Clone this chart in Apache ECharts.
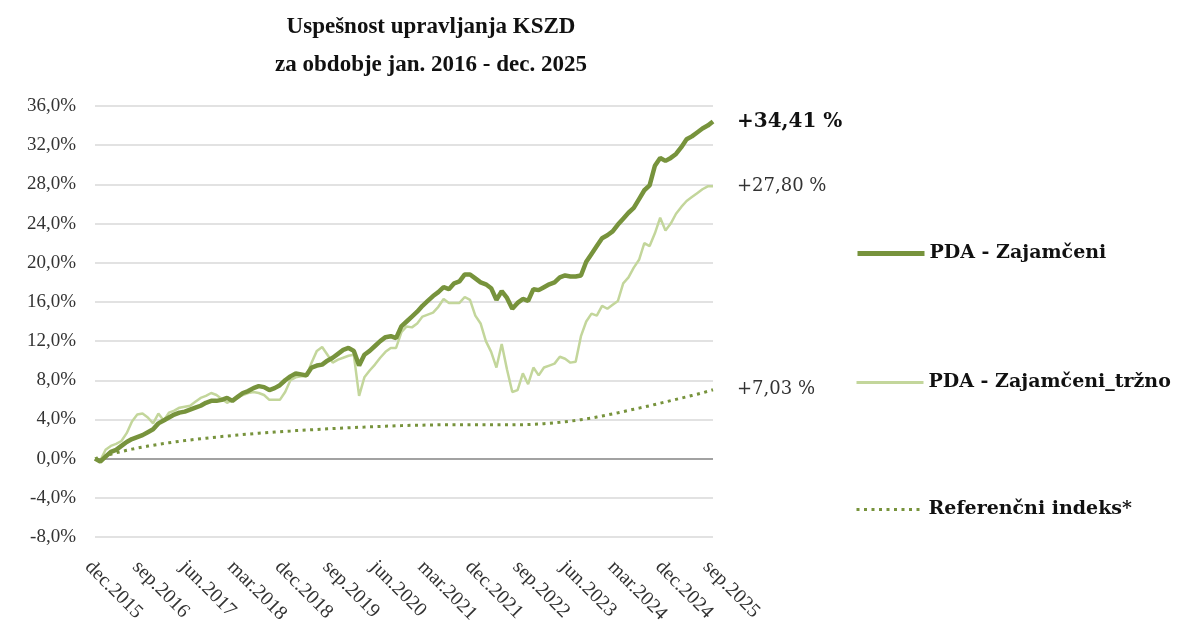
<!DOCTYPE html>
<html>
<head>
<meta charset="utf-8">
<script src="https://cdn.jsdelivr.net/npm/echarts@6/dist/echarts.min.js"></script>
<style>
  html, body { margin: 0; padding: 0; background: #fff; }
  #main { width: 1190px; height: 635px; }
</style>
</head>
<body>
<div id="main"></div>
<script>
// mesečne oznake od dec.2015 do sep.2025
const monthNames = ['jan', 'feb', 'mar', 'apr', 'maj', 'jun', 'jul', 'avg', 'sep', 'okt', 'nov', 'dec'];
const categories = ['dec.2015'];
for (let y = 2016; y <= 2025; y++) {
  for (let m = 0; m < 12; m++) {
    if (y === 2025 && m > 8) break;
    categories.push(monthNames[m] + '.' + y);
  }
}

const zajamceni = [
  0.0, -0.3, 0.2, 0.7, 0.9, 1.3, 1.7, 2.0, 2.2, 2.4,
  2.7, 3.0, 3.6, 3.9, 4.2, 4.5, 4.7, 4.8, 5.0, 5.2,
  5.4, 5.7, 5.9, 5.9, 6.0, 6.2, 5.9, 6.3, 6.7, 6.9,
  7.2, 7.4, 7.3, 7.0, 7.2, 7.5, 8.0, 8.4, 8.7, 8.6,
  8.5, 9.3, 9.5, 9.6, 10.0, 10.3, 10.7, 11.1, 11.3, 11.0,
  9.5, 10.6, 11.0, 11.5, 12.0, 12.4, 12.5, 12.3, 13.5, 14.0,
  14.5, 15.0, 15.6, 16.1, 16.6, 17.0, 17.5, 17.3, 17.9, 18.1,
  18.8, 18.8, 18.4, 18.0, 17.8, 17.4, 16.2, 17.1, 16.4, 15.3,
  15.9, 16.3, 16.1, 17.3, 17.2, 17.5, 17.8, 18.0, 18.5, 18.7,
  18.6, 18.6, 18.7, 20.1, 20.9, 21.7, 22.5, 22.8, 23.2, 23.9,
  24.5, 25.1, 25.6, 26.5, 27.4, 27.9, 29.9, 30.7, 30.4, 30.7,
  31.1, 31.8, 32.6, 32.9, 33.3, 33.7, 34.0, 34.41
];

const zajamceniTrzno = [
  0.0, -0.2, 0.9, 1.3, 1.5, 1.8, 2.6, 3.8, 4.5, 4.6,
  4.2, 3.6, 4.6, 3.9, 4.7, 4.9, 5.2, 5.3, 5.4, 5.8,
  6.2, 6.4, 6.7, 6.5, 6.1, 5.7, 6.0, 6.2, 6.5, 6.7,
  6.8, 6.7, 6.5, 6.0, 6.0, 6.0, 6.8, 8.0, 8.3, 8.4,
  8.4, 9.8, 11.0, 11.4, 10.6, 9.8, 10.1, 10.3, 10.5, 10.6,
  6.4, 8.3, 9.0, 9.6, 10.3, 10.9, 11.3, 11.3, 12.9, 13.5,
  13.4, 13.8, 14.5, 14.7, 14.9, 15.5, 16.3, 15.9, 15.9, 15.9,
  16.5, 16.2, 14.6, 13.8, 12.0, 10.9, 9.3, 11.7, 9.1, 6.8,
  7.0, 8.7, 7.6, 9.3, 8.5, 9.3, 9.5, 9.7, 10.4, 10.2,
  9.8, 9.9, 12.5, 14.0, 14.8, 14.6, 15.6, 15.3, 15.7, 16.1,
  17.9, 18.5, 19.5, 20.3, 22.0, 21.7, 23.0, 24.6, 23.3, 24.0,
  25.0, 25.7, 26.3, 26.7, 27.1, 27.5, 27.8, 27.80
];

const referencni = [
  0.0, 0.15, 0.3, 0.45, 0.6, 0.72, 0.85, 0.97, 1.08, 1.18,
  1.28, 1.37, 1.46, 1.54, 1.62, 1.7, 1.77, 1.84, 1.9, 1.97,
  2.03, 2.09, 2.15, 2.2, 2.26, 2.31, 2.36, 2.41, 2.46, 2.5,
  2.55, 2.59, 2.63, 2.67, 2.71, 2.75, 2.79, 2.82, 2.86, 2.89,
  2.92, 2.95, 2.98, 3.01, 3.04, 3.07, 3.1, 3.12, 3.15, 3.17,
  3.2, 3.22, 3.25, 3.27, 3.29, 3.31, 3.33, 3.35, 3.37, 3.39,
  3.4, 3.41, 3.42, 3.43, 3.44, 3.45, 3.45, 3.45, 3.45, 3.45,
  3.45, 3.45, 3.45, 3.45, 3.45, 3.45, 3.45, 3.45, 3.45, 3.45,
  3.46, 3.47, 3.48, 3.5, 3.53, 3.57, 3.61, 3.66, 3.71, 3.77,
  3.83, 3.9, 3.98, 4.06, 4.15, 4.25, 4.35, 4.46, 4.57, 4.68,
  4.8, 4.92, 5.04, 5.16, 5.28, 5.4, 5.53, 5.66, 5.79, 5.92,
  6.05, 6.18, 6.31, 6.44, 6.57, 6.72, 6.87, 7.03
];

const endLabels = ['+34,41 %', '+27,80 %', '+7,03 %'];
const seriesNames = ['PDA - Zajamčeni', 'PDA - Zajamčeni_tržno', 'Referenčni indeks*'];

const fontFam = '"Liberation Serif", "DejaVu Serif", serif';
const wideFam = '"DejaVu Serif", serif';

const chart = echarts.init(document.getElementById('main'));

const legendTops = [244, 373, 500];
const legendWidths = [5, 3, 3];

chart.setOption({
  backgroundColor: '#fff',
  animation: false,
  title: {
    text: 'Uspešnost upravljanja KSZD\nza obdobje jan. 2016 - dec. 2025',
    left: 426,
    textAlign: 'center',
    top: 3,
    textStyle: {
      fontFamily: fontFam,
      fontSize: 23,
      fontWeight: 'bold',
      color: '#111',
      lineHeight: 38
    }
  },
  legend: seriesNames.map((n, i) => ({
    data: [n],
    left: 855,
    top: legendTops[i],
    padding: 0,
    itemWidth: 67,
    itemHeight: 14,
    itemStyle: { opacity: 0 },
    lineStyle: { width: legendWidths[i] },
    selectedMode: false,
    textStyle: {
      fontFamily: wideFam,
      fontSize: 19,
      fontWeight: 'bold',
      color: '#111'
    }
  })),
  grid: {
    left: 95,
    right: 477,
    top: 106,
    bottom: 98
  },
  xAxis: {
    type: 'category',
    data: categories,
    boundaryGap: false,
    axisLine: { show: false, onZero: false },
    axisTick: { show: false },
    axisLabel: {
      interval: 8,
      rotate: -45,
      margin: 20,
      verticalAlign: 'top',
      fontFamily: fontFam,
      fontSize: 20,
      color: '#333'
    },
    splitLine: { show: false }
  },
  yAxis: {
    type: 'value',
    min: -8,
    max: 36,
    interval: 4,
    axisLine: { show: false },
    axisTick: { show: false },
    axisLabel: {
      margin: 19,
      fontFamily: fontFam,
      fontSize: 19,
      color: '#333',
      formatter: v => v.toFixed(1).replace('.', ',') + '%'
    },
    splitLine: { lineStyle: { color: '#d9d9d9', width: 1.5 } }
  },
  series: [
    {
      name: seriesNames[2],
      type: 'line',
      data: referencni,
      symbol: 'none',
      lineStyle: { color: '#77933c', width: 3, type: [3, 4.5] },
      itemStyle: { color: '#77933c' },
      endLabel: {
        show: true,
        formatter: endLabels[2],
        distance: 24,
        fontFamily: wideFam,
        fontSize: 18,
        color: '#333'
      },
      markLine: {
        silent: true,
        symbol: 'none',
        label: { show: false },
        lineStyle: { color: '#8c8c8c', width: 1.5, type: 'solid' },
        data: [{ yAxis: 0 }]
      },
      z: 3
    },
    {
      name: seriesNames[1],
      type: 'line',
      data: zajamceniTrzno,
      symbol: 'none',
      lineStyle: { color: '#c3d69b', width: 2.5 },
      itemStyle: { color: '#c3d69b' },
      endLabel: {
        show: true,
        formatter: endLabels[1],
        distance: 24,
        fontFamily: wideFam,
        fontSize: 18,
        color: '#333'
      },
      z: 4
    },
    {
      name: seriesNames[0],
      type: 'line',
      data: zajamceni,
      symbol: 'none',
      lineStyle: { color: '#77933c', width: 4.5 },
      itemStyle: { color: '#77933c' },
      endLabel: {
        show: true,
        formatter: endLabels[0],
        distance: 24,
        fontFamily: wideFam,
        fontSize: 20,
        fontWeight: 'bold',
        color: '#111'
      },
      z: 5
    }
  ]
});
</script>
</body>
</html>
